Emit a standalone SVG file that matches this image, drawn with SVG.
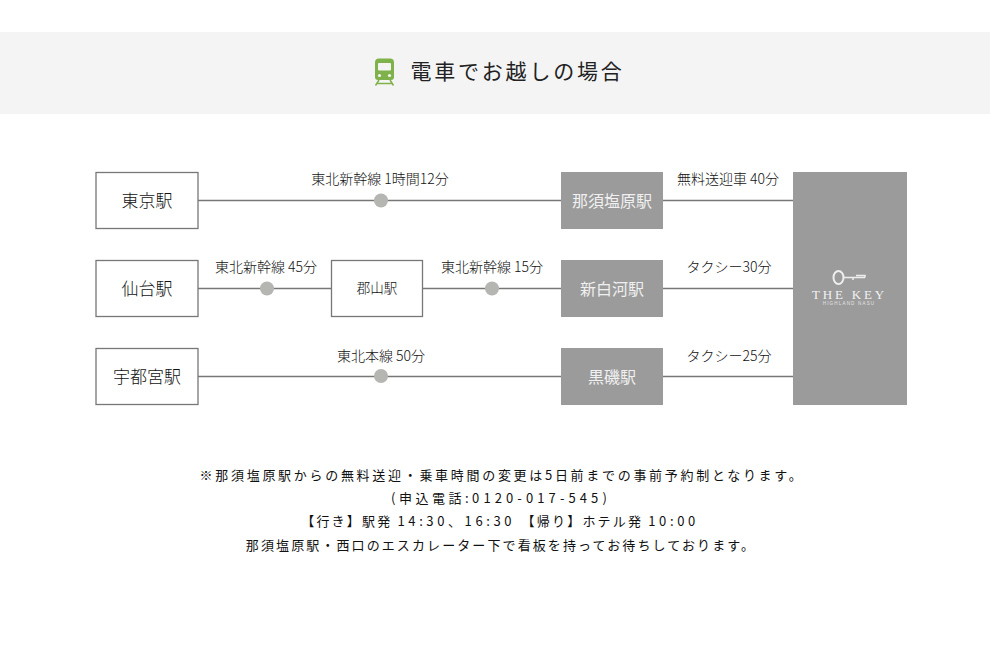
<svg xmlns="http://www.w3.org/2000/svg" width="990" height="660" viewBox="0 0 990 660">
<style>
text{font-family:"Noto Sans CJK JP","Noto Sans",sans-serif;fill:#222;text-anchor:middle}
.st{fill:#fff;stroke:#777;stroke-width:1.3}
.gr{fill:#9b9b9b}
.ln{stroke:#777;stroke-width:1.5;fill:none}
.dot{fill:#b5b5b1}
.big{font-size:17px;font-weight:300;fill:#111}
.wh{fill:#f0f0f0;font-size:16px}
.lb{font-size:14px;font-weight:300;fill:#111}
.nt{font-size:13px;letter-spacing:2.1px;fill:#111}
.num{letter-spacing:3.6px}
.cj{letter-spacing:2.2px}
</style>
<rect width="990" height="660" fill="#fff"/>
<g id="header">
<rect y="32" width="990" height="82" fill="#f4f4f4"/>
<g id="train-icon">
<path d="M379 58.500h11a4 4 0 0 1 4 4V77a3 3 0 0 1-3 3h-13a3 3 0 0 1-3-3V62.500a4 4 0 0 1 4-4z" fill="#7fb24a"/>
<rect x="378" y="63" width="13" height="7.500" rx="1" fill="#f4f4f4"/>
<circle cx="379.500" cy="75.500" r="1.600" fill="#f4f4f4"/><circle cx="389.500" cy="75.500" r="1.600" fill="#f4f4f4"/>
<path d="M379 80l-3.500 5.500M390 80l3.500 5.500M377 83.500h15" stroke="#7fb24a" stroke-width="1.500" fill="none"/>
</g>
<text x="517.500" y="79" style="font-size:21px;letter-spacing:2.8px">電車でお越しの場合</text>
</g>
<g id="connectors">
<path class="ln" d="M198 200.500H561M663 200.500H793M198 288.500H331M423 288.500H561M663 288.500H793M198 376.500H561M663 376.500H793"/>
<circle class="dot" cx="381" cy="200.500" r="7"/>
<circle class="dot" cx="267" cy="288.500" r="7"/>
<circle class="dot" cx="492" cy="288.500" r="7"/>
<circle class="dot" cx="381" cy="376" r="7"/>
<text class="lb" x="380" y="184">東北新幹線 1時間12分</text>
<text class="lb" x="728" y="184">無料送迎車 40分</text>
<text class="lb" x="266" y="272">東北新幹線 45分</text>
<text class="lb" x="492" y="272">東北新幹線 15分</text>
<text class="lb" x="729" y="272">タクシー30分</text>
<text class="lb" x="381" y="361">東北本線 50分</text>
<text class="lb" x="729" y="361">タクシー25分</text>
</g>
<g id="tokyo"><rect class="st" x="96" y="172.500" width="102" height="56"/><text class="big" x="147" y="207">東京駅</text></g>
<g id="sendai"><rect class="st" x="96" y="260.500" width="102" height="56"/><text class="big" x="147" y="295">仙台駅</text></g>
<g id="utsunomiya"><rect class="st" x="96" y="348.500" width="102" height="56"/><text class="big" x="147" y="383">宇都宮駅</text></g>
<g id="koriyama"><rect class="st" x="331.500" y="260.500" width="91" height="56"/><text x="377" y="293" style="font-size:13.500px;font-weight:300;fill:#111">郡山駅</text></g>
<g id="nasushiobara"><rect class="gr" x="561" y="172" width="102" height="57"/><text class="wh" x="612" y="207">那須塩原駅</text></g>
<g id="shinshirakawa"><rect class="gr" x="561" y="260" width="102" height="57"/><text class="wh" x="612" y="295">新白河駅</text></g>
<g id="kuroiso"><rect class="gr" x="561" y="348" width="102" height="57"/><text class="wh" x="612" y="383">黒磯駅</text></g>
<g id="the-key">
<rect class="gr" x="793" y="172" width="114" height="233"/>
<g fill="none" stroke="#eee">
<ellipse cx="838.500" cy="277.500" rx="5" ry="6.500" stroke-width="2"/>
<path d="M844 277.500H865M853 280v-2M856 275.500h9v2" stroke-width="1.500"/>
</g>
<text x="849.500" y="299" style="font-family:'Liberation Serif',serif;font-size:13px;letter-spacing:2.8px;fill:#f2f2f2">THE KEY</text>
<text x="849" y="305" style="font-family:'Liberation Sans',sans-serif;font-size:4.500px;letter-spacing:1.200px;fill:#e4e4e4">HIGHLAND NASU</text>
</g>
<g id="notes">
<text class="nt" x="502" y="480" style="letter-spacing:2.7px">※那須塩原駅からの無料送迎・乗車時間の変更は5日前までの事前予約制となります。</text>
<text class="nt" x="501" y="503"><tspan style="letter-spacing:3.5px">(申込電話:</tspan><tspan style="letter-spacing:4.1px">0120-017-545)</tspan></text>
<text class="nt" x="500" y="526"><tspan class="cj">【行き】駅発 </tspan><tspan class="num">14:30、16:30 </tspan><tspan class="cj">【帰り】ホテル発 </tspan><tspan class="num">10:00</tspan></text>
<text class="nt" x="501" y="550">那須塩原駅・西口のエスカレーター下で看板を持ってお待ちしております。</text>
</g>
</svg>
